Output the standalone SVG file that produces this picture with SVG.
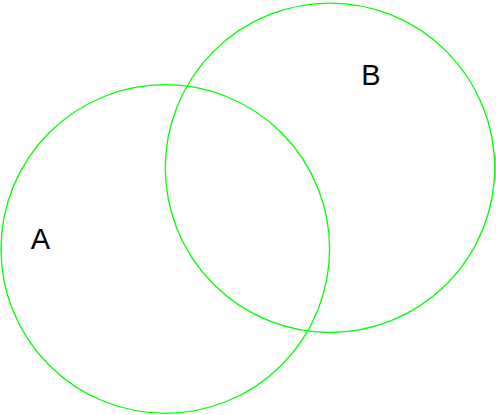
<svg xmlns="http://www.w3.org/2000/svg" width="496" height="415" viewBox="0 0 496 415">
<style>
.set{fill:none;stroke:#00ff00;stroke-width:1.3}
.lbl{font-family:"Liberation Sans",Arial,sans-serif;font-size:29px;fill:#000;text-anchor:middle}
</style>
<rect width="496" height="415" fill="#fff"/>
<g id="A">
<circle class="set" cx="165.3" cy="249" r="164.3"/>
<text class="lbl" x="40.5" y="248.5">A</text>
</g>
<g id="B">
<circle class="set" cx="330" cy="167.8" r="164.7"/>
<text class="lbl" x="371" y="84.5">B</text>
</g>
<g id="connectors"/>
</svg>
